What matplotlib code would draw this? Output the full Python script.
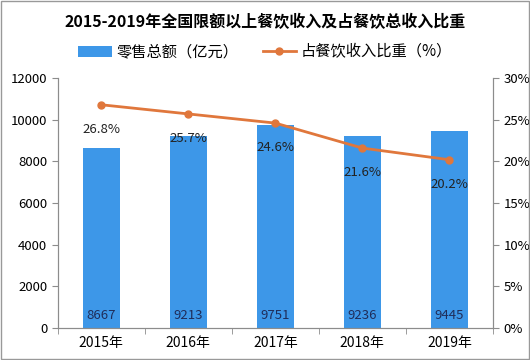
import matplotlib.pyplot as plt
import numpy as np

plt.rcParams['font.family'] = ['Noto Sans CJK SC', 'DejaVu Sans']

years = ['2015年', '2016年', '2017年', '2018年', '2019年']
sales = [8667, 9213, 9751, 9236, 9445]
share = [26.8, 25.7, 24.6, 21.6, 20.2]

bar_color = '#3d97e8'
line_color = '#e0773c'
axis_color = '#8c8c8c'

fig = plt.figure(figsize=(5.3, 3.6), dpi=100)
ax = fig.add_axes([0.109, 0.089, 0.821, 0.694])
ax2 = ax.twinx()

x = np.arange(len(years))
ax.bar(x, sales, width=0.42, color=bar_color, label='零售总额（亿元）', zorder=2)
for xi, v in zip(x, sales):
    ax.text(xi, 280, str(v), ha='center', va='bottom', fontsize=9.5, color='#1f2d5a')

ax2.plot(x, share, color=line_color, linewidth=2, marker='o', markersize=5,
         label='占餐饮收入比重（%）', zorder=3)
for xi, v in zip(x, share):
    ax2.text(xi, v - 2.2, f'{v}%', ha='center', va='top', fontsize=9.5, color='#222222')

ax.set_xlim(-0.5, len(years) - 0.5)
ax.set_ylim(0, 12000)
ax.set_yticks(range(0, 12001, 2000))
ax2.set_ylim(0, 30)
ax2.set_yticks(range(0, 31, 5))
ax2.set_yticklabels([f'{t}%' for t in range(0, 31, 5)])

ax.set_xticks(x)
ax.set_xticklabels(years)
ax.set_xticks(np.arange(-0.5, len(years)), minor=True)
ax.tick_params(axis='x', which='major', length=0, labelsize=10, pad=6)
ax.tick_params(axis='x', which='minor', length=4, color=axis_color)
ax.tick_params(axis='y', length=4, color=axis_color, labelsize=9.5)
ax2.tick_params(axis='y', length=4, color=axis_color, labelsize=9.5)

for a in (ax, ax2):
    a.spines['top'].set_visible(False)
    for s in ('left', 'right', 'bottom'):
        a.spines[s].set_color(axis_color)

ax2.set_zorder(ax.get_zorder() + 1)
ax2.patch.set_visible(False)

fig.text(0.5, 0.94, '2015-2019年全国限额以上餐饮收入及占餐饮总收入比重',
         ha='center', va='center', fontsize=11.5, fontweight='bold')

h1, l1 = ax.get_legend_handles_labels()
h2, l2 = ax2.get_legend_handles_labels()
fig.legend(h1 + h2, l1 + l2, loc='center', bbox_to_anchor=(0.5, 0.855), ncol=2,
           frameon=False, fontsize=11, handlelength=2.2, columnspacing=1.6,
           handletextpad=0.3)

fig.patches.append(plt.Rectangle((0.002, 0.003), 0.996, 0.994, transform=fig.transFigure,
                                 fill=False, edgecolor='#999999', linewidth=1))

fig.savefig('out.png', dpi=100)
